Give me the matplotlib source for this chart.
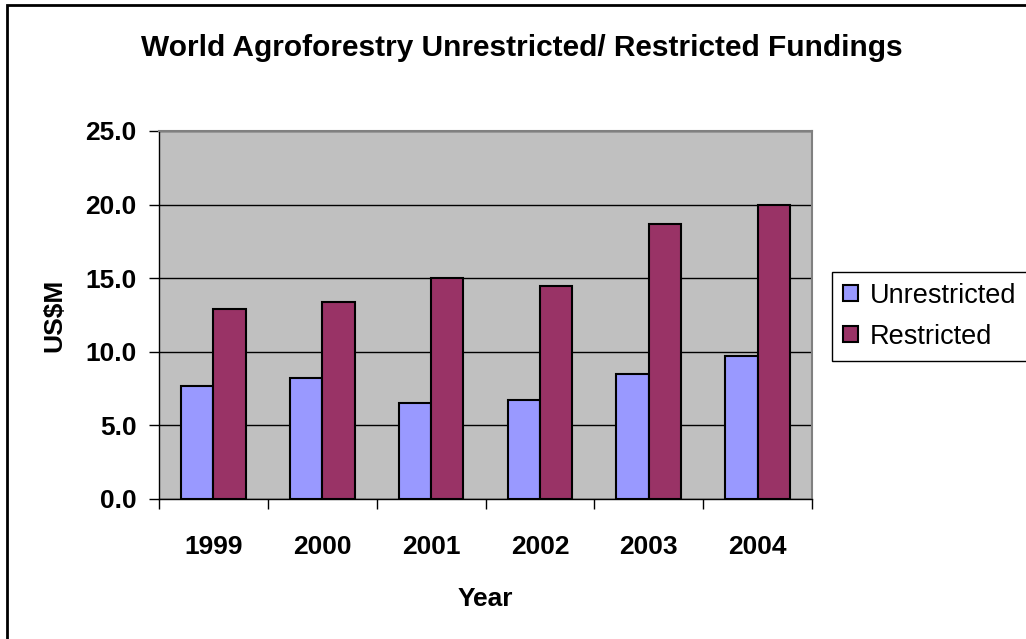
import matplotlib
matplotlib.use("Agg")
import matplotlib.pyplot as plt
import numpy as np
from matplotlib.patches import Rectangle
from matplotlib.ticker import MultipleLocator, FormatStrFormatter

# data (US$ millions)
years = ["1999", "2000", "2001", "2002", "2003", "2004"]
unrestricted = [7.7, 8.2, 6.5, 6.7, 8.5, 9.7]
restricted = [12.9, 13.4, 15.0, 14.5, 18.7, 20.0]

plt.rcParams["font.family"] = ["Liberation Sans", "DejaVu Sans"]

fig = plt.figure(figsize=(10.26, 6.39), dpi=100)
ax = fig.add_axes([159 / 1026, 140 / 639, 653 / 1026, 368 / 639])

x = np.arange(len(years))
w = 0.297
ax.bar(x - w / 2, unrestricted, w, color="#9999FF", edgecolor="black",
       linewidth=1.5, label="Unrestricted", zorder=3)
ax.bar(x + w / 2, restricted, w, color="#993366", edgecolor="black",
       linewidth=1.5, label="Restricted", zorder=3)

# axes look (Excel style grey plot area)
ax.set_facecolor("#C0C0C0")
ax.set_xlim(-0.5, len(years) - 0.5)
ax.set_ylim(0, 25)
ax.yaxis.set_major_locator(MultipleLocator(5))
ax.yaxis.set_major_formatter(FormatStrFormatter("%.1f"))
ax.grid(axis="y", color="black", linewidth=1, zorder=1)
ax.set_axisbelow(True)

ax.set_xticks(x)
ax.set_xticklabels(years)
ax.set_xticks(np.arange(len(years) + 1) - 0.5, minor=True)
ax.tick_params(axis="x", which="major", length=0, pad=26, labelsize=19)
ax.tick_params(axis="x", which="minor", length=7, width=1, direction="out")
ax.tick_params(axis="y", length=7, width=1, pad=9, labelsize=19)
for lbl in ax.get_xticklabels() + ax.get_yticklabels():
    lbl.set_fontweight("bold")

for side in ["top", "right"]:
    ax.spines[side].set_color("#808080")
    ax.spines[side].set_linewidth(1.5)
for side in ["left", "bottom"]:
    ax.spines[side].set_color("black")
    ax.spines[side].set_linewidth(1)

ax.set_ylabel("US$M", fontsize=19, fontweight="bold")
ax.yaxis.set_label_coords(-0.142, 0.5)
ax.set_xlabel("Year", fontsize=19, fontweight="bold")
ax.xaxis.set_label_coords(0.5, -0.239)

fig.text(522 / 1026, 1 - 56 / 639, "World Agroforestry Unrestricted/ Restricted Fundings",
         ha="center", va="baseline", fontsize=21.5, fontweight="bold")

leg = fig.legend(loc="upper left",
                 bbox_to_anchor=(832 / 1026, (639 - 358) / 639, 0.2, 86 / 639),
                 mode="expand", fontsize=19.5, fancybox=False, framealpha=1,
                 edgecolor="black", handlelength=0.55, handleheight=0.55,
                 handletextpad=0.45, borderpad=0.4, labelspacing=0.55,
                 borderaxespad=0)
leg.get_frame().set_linewidth(1)

# outer chart border (right and bottom edges are cut off in the original)
fig.patches.append(Rectangle((7 / 1026, -0.1), 1.2, 1.1 - 5 / 639,
                             transform=fig.transFigure, fill=False,
                             edgecolor="black", linewidth=2))

fig.savefig("out.png", dpi=100)
